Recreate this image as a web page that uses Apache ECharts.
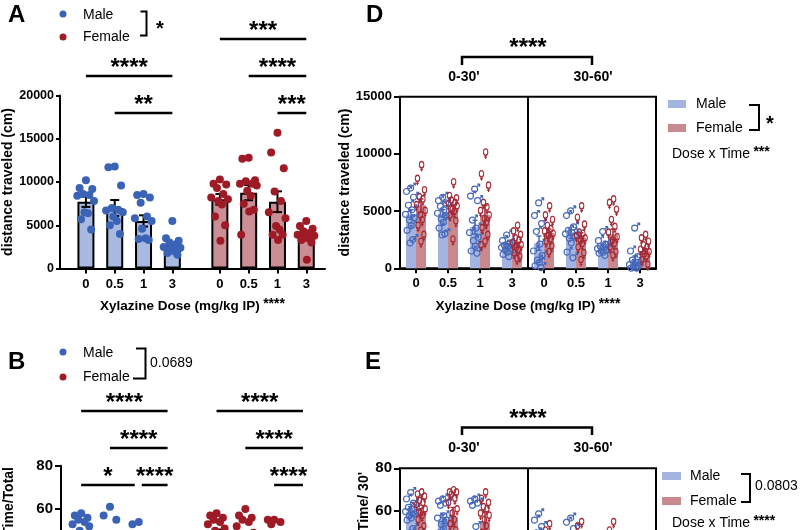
<!DOCTYPE html>
<html><head><meta charset="utf-8">
<script src="https://cdn.jsdelivr.net/npm/echarts@6/dist/echarts.min.js"></script>
<style>html,body{margin:0;padding:0;background:#fff}#c{width:800px;height:530px}</style>
</head><body><div id="c"></div>
<script>
// ---------------- DATA ----------------
const doseLabels = ['0', '0.5', '1', '3'];
const timeLabels = ["0-30'", "30-60'"];

// Panel A: distance traveled (cm), individual animals per dose
const aMaleDots = [
  [10200, 9300, 9200, 8600, 8500, 8400, 7800, 6500, 6400, 5700, 4500],
  [11800, 11700, 9600, 7000, 6800, 6700, 6500, 6000, 5500, 5000, 4000],
  [8600, 8500, 8200, 7600, 6000, 5800, 5500, 4600, 3500, 3400, 3300],
  [5500, 3500, 3200, 3000, 2800, 2500, 2400, 2200, 2000, 1800, 1600]
];
const aFemaleDots = [
  [10300, 9800, 9700, 9300, 8600, 8200, 8000, 7800, 7400, 6000, 5000, 3200],
  [12800, 12700, 10200, 10100, 9800, 9800, 9600, 9000, 8400, 7500, 6800, 6600, 3900],
  [15700, 13400, 11600, 8900, 7800, 6500, 5800, 4900, 4500, 3900, 3900, 3300],
  [5500, 4900, 4600, 4300, 4100, 3900, 3800, 3700, 3500, 3300, 3000, 1000]
];
const aMaleMean = [7720, 7000, 5500, 2700];
const aMaleSem = [600, 920, 650, 350];
const aFemaleMean = [8000, 8770, 7720, 3640];
const aFemaleSem = [620, 880, 1200, 370];

// Panel B: Time/Total
const bMaleDots = [
  [58, 57, 56, 55, 54, 53, 52, 50, 48, 46, 44],
  [61, 57, 55, 46, 43, 40, 38, 36, 34, 30, 28],
  [54, 53, 45, 40, 36, 33, 30, 28, 25, 22, 20],
  [30, 25, 20, 18, 15, 12, 10, 8, 6, 5, 3]
];
const bFemaleDots = [
  [58, 57, 56, 55, 54, 53, 51, 50, 48, 46, 44, 40],
  [60, 57, 56, 55, 54, 52, 49, 46, 44, 42, 40, 35, 30],
  [55, 55, 54, 53, 48, 44, 40, 36, 32, 28, 25, 20],
  [30, 25, 22, 20, 18, 15, 12, 10, 8, 6, 5, 3]
];
const bMaleMean = [48, 40, 35, 14];
const bMaleSem = [1.3, 3, 3, 2.5];
const bFemaleMean = [49, 45, 40, 15];
const bFemaleSem = [1.5, 2.5, 3, 2.5];

// Panel D: distance traveled (cm) per 30-min bin
const dMaleDots030 = [
  [7100, 6800, 6300, 5600, 5200, 4800, 4500, 4300, 3800, 3400, 2600, 2300],
  [6300, 6000, 5800, 5500, 5200, 4900, 4700, 4400, 4100, 3600, 3100, 3000],
  [7000, 6400, 6000, 4300, 3600, 3200, 2800, 2500, 2000, 1600, 1400],
  [3000, 2500, 2300, 2100, 2000, 1900, 1800, 1700, 1500, 1300, 1100]
];
const dFemaleDots030 = [
  [8900, 7700, 6700, 6100, 5900, 5400, 4900, 4500, 4100, 3600, 2800, 2200],
  [7400, 6200, 6000, 5800, 5600, 5500, 5300, 5000, 4800, 4500, 4000, 2400],
  [10000, 8100, 7100, 5600, 5200, 4900, 4500, 4200, 3800, 3400, 2800, 2200, 1900],
  [3600, 3100, 2800, 2500, 2300, 2100, 1900, 1700, 1500, 1200, 900, 700]
];
const dMaleDots3060 = [
  [5800, 4700, 4000, 3300, 2200, 1600, 1200, 800, 600, 300, 150],
  [5100, 4700, 3700, 3400, 3200, 3100, 2900, 2700, 2300, 1500, 1000],
  [3300, 2500, 2200, 2000, 1900, 1800, 1700, 1600, 1500, 1400, 1200],
  [3600, 1600, 1100, 800, 600, 400, 300, 200, 150, 100, 100]
];
const dFemaleDots3060 = [
  [5300, 4500, 4100, 3600, 3300, 3100, 2900, 2700, 2400, 2200, 1800, 1300],
  [5300, 4300, 3700, 3000, 2900, 2700, 2500, 2300, 2000, 1700, 1200, 600],
  [5900, 5600, 5000, 4100, 3500, 3000, 2600, 2300, 2000, 1700, 1300, 1000],
  [2800, 2500, 2200, 1900, 1700, 1500, 1300, 1100, 900, 600, 200]
];
const dMaleMean = [4700, 4800, 3600, 1950, 2200, 3000, 1900, 750];
const dMaleSem = [420, 330, 600, 180, 620, 380, 190, 320];
const dFemaleMean = [5500, 5150, 4650, 2030, 3100, 2700, 2970, 1500];
const dFemaleSem = [560, 380, 850, 230, 330, 400, 460, 240];

// Panel E: Time / 30'
const eMaleDots030 = [
  [69, 66, 64, 62, 61, 60, 59, 58, 57, 56, 52, 50],
  [66, 65, 64, 63, 58, 57, 56, 54, 52, 50, 46, 42],
  [66, 65, 64, 63, 53, 45, 42, 38, 35, 30, 28],
  [42, 38, 35, 30, 28, 25, 22, 20, 18, 15, 12]
];
const eFemaleDots030 = [
  [68, 67, 66, 64, 63, 62, 60, 58, 57, 55, 52, 50],
  [69, 68, 68, 67, 65, 63, 60, 58, 55, 53, 50, 45, 40],
  [68, 65, 63, 61, 60, 58, 57, 55, 52, 49, 45, 40],
  [44, 40, 36, 32, 30, 28, 25, 22, 20, 18, 15, 12]
];
const eMaleDots3060 = [
  [59, 56, 53, 50, 45, 40, 35, 30, 25, 20, 15],
  [57, 55, 52, 48, 45, 42, 40, 37, 33, 28, 25],
  [48, 45, 42, 40, 38, 35, 32, 30, 28, 25, 20],
  [45, 30, 25, 20, 18, 15, 12, 10, 8, 6, 5]
];
const eFemaleDots3060 = [
  [53, 50, 47, 45, 43, 40, 38, 35, 32, 30, 27, 24],
  [54, 52, 48, 46, 44, 42, 40, 38, 35, 32, 30, 25],
  [54, 50, 48, 45, 43, 40, 38, 35, 32, 30, 27, 24],
  [40, 36, 33, 30, 28, 25, 22, 20, 18, 15, 12]
];
const eMaleMean = [59.5, 56, 47, 24, 37, 42, 35, 18];
const eMaleSem = [1.3, 2.2, 3.5, 2.5, 4, 3, 2.5, 3.5];
const eFemaleMean = [59.5, 57, 55, 27, 37, 40, 38, 25];
const eFemaleSem = [1.5, 4.5, 4.5, 2.8, 2.5, 2.4, 2.6, 2.5];

// Significance annotations (comparison between dose groups)
const sigA = [
  {from: 4, to: 7, text: '***', row: 0},
  {from: 0, to: 3, text: '****', row: 1},
  {from: 5, to: 7, text: '****', row: 1},
  {from: 1, to: 3, text: '**', row: 2},
  {from: 6, to: 7, text: '***', row: 2}
];
const sigB = [
  {from: 0, to: 3, text: '****', row: 0},
  {from: 4, to: 7, text: '****', row: 0},
  {from: 1, to: 3, text: '****', row: 1},
  {from: 5, to: 7, text: '****', row: 1},
  {from: 0, to: 2, text: '*', row: 2, trimR: 4},
  {from: 2, to: 3, text: '****', row: 2, trimL: 3},
  {from: 6, to: 7, text: '****', row: 2}
];

// ---------------- LAYOUT / STYLE ----------------
const FONT = '"Liberation Sans", Arial, Helvetica, sans-serif';
const C = {
  maleDot: '#3b63b5', femaleDot: '#9e1b26',
  maleBarA: '#a8b9e2', femaleBarA: '#cb8e94',
  maleBarD: '#a3b4e0', femaleBarD: '#c88a8f',
  maleSym: '#4769bb', femaleSym: '#a52a35'
};
const POS_A = [0.9, 1.9, 2.9, 3.9, 5.55, 6.55, 7.55, 8.55];
const POS_B = [0.7, 1.7, 2.7, 3.7, 5.4, 6.4, 7.4, 8.4];
const POS_D = [0, 1, 2, 3, 4, 5, 6, 7];
const BAR_OFF = 0.156;
const JIT = [0, -0.22, 0.22, -0.1, 0.12, -0.3, 0.28, -0.05, 0.07, -0.17, 0.18, 0.02, -0.26];
const JIT_D = [0.02, -0.11, 0.11, -0.05, 0.06, -0.14, 0.13, -0.02, 0.04, -0.09, 0.09, 0, -0.12];
const ROWS_A = [39, 76, 113];
const ROWS_B = [411, 448, 485];
const MALE_SYM = 'path://M2,12A6,6 0 1,1 14,12A6,6 0 1,1 2,12Z M12.2,7.8L18,2 M13,2L18,2L18,7';
const FEMALE_SYM = 'path://M4,7A6,6 0 1,1 16,7A6,6 0 1,1 4,7Z M10,13L10,20 M6.5,16.5L13.5,16.5';

function dots(groups, pos, jit, scale, off) {
  const out = [];
  groups.forEach((g, i) => g.forEach((v, j) => out.push([pos[i] + (off || 0) + jit[j % jit.length] * scale, v])));
  return out;
}
function errData(mean, sem, pos, off) {
  return mean.map((m, i) => [pos[i] + (off || 0), m - sem[i], m + sem[i]]);
}
function errRenderer(cap, color, lw) {
  return function (params, api) {
    const x = api.value(0);
    const lo = api.coord([x, api.value(1)]);
    const hi = api.coord([x, api.value(2)]);
    const st = {stroke: color, lineWidth: lw};
    return {type: 'group', children: [
      {type: 'line', shape: {x1: hi[0], y1: hi[1], x2: lo[0], y2: lo[1]}, style: st},
      {type: 'line', shape: {x1: hi[0] - cap / 2, y1: hi[1], x2: hi[0] + cap / 2, y2: hi[1]}, style: st},
      {type: 'line', shape: {x1: lo[0] - cap / 2, y1: lo[1], x2: lo[0] + cap / 2, y2: lo[1]}, style: st}
    ]};
  };
}
function labelAt(pos, v) {
  const i = pos.findIndex(p => Math.abs(p - v) < 1e-6);
  return i < 0 ? '' : doseLabels[i % 4];
}
const axisLine = {show: true, onZero: false, lineStyle: {color: '#000', width: 2}};
function tick(len) { return {show: true, length: len, lineStyle: {color: '#000', width: 2}}; }
function lab(size, margin) { return {color: '#000', fontWeight: 'bold', fontSize: size, fontFamily: FONT, margin: margin, formatter: v => String(v)}; }
const xName = '{t|Xylazine Dose (mg/kg IP)} {s|****}';
const xNameStyle = {rich: {
  t: {fontSize: 13.5, fontWeight: 'bold', fontFamily: FONT, color: '#000'},
  s: {fontSize: 14, fontWeight: 'bold', fontFamily: FONT, color: '#000', padding: [0, 0, 4, 0]}
}};
const dividerLine = {silent: true, symbol: 'none', label: {show: false},
  lineStyle: {color: '#000', width: 2, type: 'solid'}, data: [{xAxis: 3.5}]};
const hiddenX = {type: 'value', min: -0.5, max: 7.5, show: false,
  axisLine: {show: false, onZero: false}, axisTick: {show: false}, axisLabel: {show: false}, splitLine: {show: false}};

const chart = echarts.init(document.getElementById('c'));

const option = {
  animation: false,
  backgroundColor: '#fff',
  grid: [
    {left: 60, top: 95.5, width: 265, height: 173, outerBoundsMode: 'none', containLabel: false},
    {left: 400, top: 96.7, width: 256, height: 171.6, show: true, borderColor: '#000', borderWidth: 2, outerBoundsMode: 'none', containLabel: false},
    {left: 61, top: 465.7, width: 265, height: 173.2, outerBoundsMode: 'none', containLabel: false},
    {left: 400, top: 468.3, width: 256, height: 169.6, show: true, borderColor: '#000', borderWidth: 2, outerBoundsMode: 'none', containLabel: false}
  ],
  xAxis: [
    {gridIndex: 0, type: 'value', min: 0, max: 9.2, axisLine: axisLine,
     axisTick: Object.assign(tick(5), {customValues: POS_A}),
     axisLabel: Object.assign(lab(13, 9), {customValues: POS_A, formatter: v => labelAt(POS_A, v)}),
     splitLine: {show: false}, name: xName, nameLocation: 'middle', nameGap: 29, nameTextStyle: xNameStyle},
    {gridIndex: 1, type: 'category', data: doseLabels.concat(doseLabels), axisLine: axisLine,
     axisTick: Object.assign(tick(5), {alignWithLabel: true}), axisLabel: lab(13, 9),
     splitLine: {show: false},
     name: xName, nameLocation: 'middle', nameGap: 29, nameTextStyle: xNameStyle},
    Object.assign({gridIndex: 1}, hiddenX),
    {gridIndex: 2, type: 'value', min: 0, max: 9.2, axisLine: axisLine,
     axisTick: Object.assign(tick(5), {customValues: POS_B}),
     axisLabel: Object.assign(lab(13, 9), {customValues: POS_B, formatter: v => labelAt(POS_B, v)}),
     splitLine: {show: false}},
    {gridIndex: 3, type: 'category', data: doseLabels.concat(doseLabels), axisLine: axisLine,
     axisTick: Object.assign(tick(5), {alignWithLabel: true}), axisLabel: lab(13, 9),
     splitLine: {show: false}},
    Object.assign({gridIndex: 3}, hiddenX)
  ],
  yAxis: [
    {gridIndex: 0, type: 'value', min: 0, max: 20000, interval: 5000, axisLine: axisLine, axisTick: tick(4),
     axisLabel: lab(12.5, 6), splitLine: {show: false},
     name: 'distance traveled (cm)', nameLocation: 'middle', nameGap: 44,
     nameTextStyle: {fontSize: 14, fontWeight: 'bold', fontFamily: FONT, color: '#000'}},
    {gridIndex: 1, type: 'value', min: 0, max: 15000, interval: 5000, axisLine: axisLine, axisTick: tick(6),
     axisLabel: lab(13, 8), splitLine: {show: false},
     name: 'distance traveled (cm)', nameLocation: 'middle', nameGap: 47,
     nameTextStyle: {fontSize: 14, fontWeight: 'bold', fontFamily: FONT, color: '#000'}},
    {gridIndex: 2, type: 'value', min: 0, max: 80, interval: 20, axisLine: axisLine, axisTick: tick(6),
     axisLabel: lab(15, 8), splitLine: {show: false}},
    {gridIndex: 3, type: 'value', min: 0, max: 80, interval: 20, axisLine: axisLine, axisTick: tick(6),
     axisLabel: lab(15, 8), splitLine: {show: false}}
  ],
  series: [
    // ---- Panel A ----
    {name: 'Male', type: 'bar', xAxisIndex: 0, yAxisIndex: 0, barWidth: 17, barGap: '-100%', z: 2,
     itemStyle: {color: C.maleBarA, borderColor: '#000', borderWidth: 2},
     data: aMaleMean.map((m, i) => [POS_A[i], m])},
    {name: 'Female', type: 'bar', xAxisIndex: 0, yAxisIndex: 0, barWidth: 17, barGap: '-100%', z: 2,
     itemStyle: {color: C.femaleBarA, borderColor: '#000', borderWidth: 2},
     data: aFemaleMean.map((m, i) => [POS_A[i + 4], m])},
    {type: 'custom', xAxisIndex: 0, yAxisIndex: 0, z: 3, renderItem: errRenderer(9, '#000', 2),
     encode: {x: 0, y: [1, 2]},
     data: errData(aMaleMean, aMaleSem, POS_A.slice(0, 4)).concat(errData(aFemaleMean, aFemaleSem, POS_A.slice(4)))},
    {name: 'Male', type: 'scatter', xAxisIndex: 0, yAxisIndex: 0, z: 4, symbolSize: 8,
     itemStyle: {color: C.maleDot, opacity: 1}, data: dots(aMaleDots, POS_A.slice(0, 4), JIT, 1)},
    {name: 'Female', type: 'scatter', xAxisIndex: 0, yAxisIndex: 0, z: 4, symbolSize: 8,
     itemStyle: {color: C.femaleDot, opacity: 1}, data: dots(aFemaleDots, POS_A.slice(4), JIT, 1)},
    // ---- Panel B ----
    {name: 'Male', type: 'bar', xAxisIndex: 3, yAxisIndex: 2, barWidth: 17, barGap: '-100%', z: 2,
     itemStyle: {color: C.maleBarA, borderColor: '#000', borderWidth: 2},
     data: bMaleMean.map((m, i) => [POS_B[i], m])},
    {name: 'Female', type: 'bar', xAxisIndex: 3, yAxisIndex: 2, barWidth: 17, barGap: '-100%', z: 2,
     itemStyle: {color: C.femaleBarA, borderColor: '#000', borderWidth: 2},
     data: bFemaleMean.map((m, i) => [POS_B[i + 4], m])},
    {type: 'custom', xAxisIndex: 3, yAxisIndex: 2, z: 3, renderItem: errRenderer(9, '#000', 2),
     encode: {x: 0, y: [1, 2]},
     data: errData(bMaleMean, bMaleSem, POS_B.slice(0, 4)).concat(errData(bFemaleMean, bFemaleSem, POS_B.slice(4)))},
    {name: 'Male', type: 'scatter', xAxisIndex: 3, yAxisIndex: 2, z: 4, symbolSize: 8,
     itemStyle: {color: C.maleDot, opacity: 1}, data: dots(bMaleDots, POS_B.slice(0, 4), JIT, 1)},
    {name: 'Female', type: 'scatter', xAxisIndex: 3, yAxisIndex: 2, z: 4, symbolSize: 8,
     itemStyle: {color: C.femaleDot, opacity: 1}, data: dots(bFemaleDots, POS_B.slice(4), JIT, 1)},
    // ---- Panel D ----
    {name: 'Male', type: 'bar', xAxisIndex: 1, yAxisIndex: 1, barWidth: 10, barGap: '0%', z: 2,
     itemStyle: {color: C.maleBarD}, data: dMaleMean},
    {name: 'Female', type: 'bar', xAxisIndex: 1, yAxisIndex: 1, barWidth: 10, barGap: '0%', z: 2,
     itemStyle: {color: C.femaleBarD}, data: dFemaleMean},
    {name: 'Male', type: 'scatter', xAxisIndex: 2, yAxisIndex: 1, z: 3, symbol: MALE_SYM, symbolSize: 8, symbolKeepAspect: true,
     itemStyle: {color: 'rgba(0,0,0,0)', borderColor: C.maleSym, borderWidth: 1.2, opacity: 1},
     data: dots(dMaleDots030.concat(dMaleDots3060), POS_D, JIT_D, 1, -BAR_OFF),
     markLine: dividerLine},
    {name: 'Female', type: 'scatter', xAxisIndex: 2, yAxisIndex: 1, z: 3, symbol: FEMALE_SYM, symbolSize: [7, 10], symbolKeepAspect: true,
     itemStyle: {color: 'rgba(0,0,0,0)', borderColor: C.femaleSym, borderWidth: 1.2, opacity: 1},
     data: dots(dFemaleDots030.concat(dFemaleDots3060), POS_D, JIT_D, 1, BAR_OFF)},
    {type: 'custom', xAxisIndex: 2, yAxisIndex: 1, z: 4, renderItem: errRenderer(5, C.maleSym, 1.5),
     encode: {x: 0, y: [1, 2]}, data: errData(dMaleMean, dMaleSem, POS_D, -BAR_OFF)},
    {type: 'custom', xAxisIndex: 2, yAxisIndex: 1, z: 4, renderItem: errRenderer(5, C.femaleSym, 1.5),
     encode: {x: 0, y: [1, 2]}, data: errData(dFemaleMean, dFemaleSem, POS_D, BAR_OFF)},
    // ---- Panel E ----
    {name: 'Male', type: 'bar', xAxisIndex: 4, yAxisIndex: 3, barWidth: 10, barGap: '0%', z: 2,
     itemStyle: {color: C.maleBarD}, data: eMaleMean},
    {name: 'Female', type: 'bar', xAxisIndex: 4, yAxisIndex: 3, barWidth: 10, barGap: '0%', z: 2,
     itemStyle: {color: C.femaleBarD}, data: eFemaleMean},
    {name: 'Male', type: 'scatter', xAxisIndex: 5, yAxisIndex: 3, z: 3, symbol: MALE_SYM, symbolSize: 8, symbolKeepAspect: true,
     itemStyle: {color: 'rgba(0,0,0,0)', borderColor: C.maleSym, borderWidth: 1.2, opacity: 1},
     data: dots(eMaleDots030.concat(eMaleDots3060), POS_D, JIT_D, 1, -BAR_OFF),
     markLine: dividerLine},
    {name: 'Female', type: 'scatter', xAxisIndex: 5, yAxisIndex: 3, z: 3, symbol: FEMALE_SYM, symbolSize: [7, 10], symbolKeepAspect: true,
     itemStyle: {color: 'rgba(0,0,0,0)', borderColor: C.femaleSym, borderWidth: 1.2, opacity: 1},
     data: dots(eFemaleDots030.concat(eFemaleDots3060), POS_D, JIT_D, 1, BAR_OFF)},
    {type: 'custom', xAxisIndex: 5, yAxisIndex: 3, z: 4, renderItem: errRenderer(5, C.maleSym, 1.5),
     encode: {x: 0, y: [1, 2]}, data: errData(eMaleMean, eMaleSem, POS_D, -BAR_OFF)},
    {type: 'custom', xAxisIndex: 5, yAxisIndex: 3, z: 4, renderItem: errRenderer(5, C.femaleSym, 1.5),
     encode: {x: 0, y: [1, 2]}, data: errData(eFemaleMean, eFemaleSem, POS_D, BAR_OFF)}
  ]
};
chart.setOption(option);

// ---------------- ANNOTATIONS ----------------
const G = [];
function txt(x, y, text, font, align, vAlign, extra) {
  G.push(Object.assign({type: 'text', x: x, y: y, z: 10,
    style: {text: text, font: font, fill: '#000', align: align || 'left', verticalAlign: vAlign || 'middle'}}, extra || {}));
}
function poly(points, w) {
  G.push({type: 'polyline', z: 10, shape: {points: points}, style: {stroke: '#000', lineWidth: w || 2, fill: null}});
}
const STAR = 'bold 24px ' + FONT;
function addSig(list, xAxisIndex, pos, rows) {
  list.forEach(s => {
    const x1 = chart.convertToPixel({xAxisIndex: xAxisIndex}, pos[s.from]) + (s.trimL || 0);
    const x2 = chart.convertToPixel({xAxisIndex: xAxisIndex}, pos[s.to]) - (s.trimR || 0);
    const y = rows[s.row];
    poly([[x1, y], [x2, y]], 2.5);
    txt((x1 + x2) / 2, y - 7.5, s.text, STAR, 'center', 'middle');
  });
}
addSig(sigA, 0, POS_A, ROWS_A);
addSig(sigB, 3, POS_B, ROWS_B);

// panel letters
const LET = 'bold 24px ' + FONT;
txt(8, 15, 'A', LET); txt(366, 15, 'D', LET); txt(8, 362, 'B', LET); txt(365, 362, 'E', LET);

// legends A and B (dots)
const LEG = '14px ' + FONT;
[[14, 37], [352, 377]].forEach(([y1, y2]) => {
  G.push({type: 'circle', z: 10, shape: {cx: 63, cy: y1, r: 3.5}, style: {fill: C.maleDot}});
  G.push({type: 'circle', z: 10, shape: {cx: 63, cy: y2, r: 3.5}, style: {fill: C.femaleDot}});
  txt(83, y1 + 1, 'Male', LEG); txt(83, y2, 'Female', LEG);
});
poly([[140.5, 11.5], [146.5, 11.5], [146.5, 35.5], [140, 35.5]], 2);
txt(160, 29, '*', 'bold 20px ' + FONT, 'center');
poly([[136, 348.5], [145.5, 348.5], [145.5, 378.5], [133, 378.5]], 2);
txt(150, 363, '0.0689', LEG);

// legends D and E (swatches)
G.push({type: 'rect', z: 10, shape: {x: 668, y: 100, width: 18, height: 8}, style: {fill: C.maleBarD}});
G.push({type: 'rect', z: 10, shape: {x: 668, y: 124, width: 18, height: 8}, style: {fill: C.femaleBarD}});
txt(696, 104, 'Male', LEG); txt(696, 128.5, 'Female', LEG);
poly([[749, 105], [759, 105], [759, 130], [749, 130]], 2);
txt(770, 124, '*', 'bold 20px ' + FONT, 'center');
G.push({type: 'text', x: 672, y: 154, z: 10, style: {text: '{a|Dose x Time} {b|***}', verticalAlign: 'middle',
  rich: {a: {font: LEG, fill: '#000'}, b: {font: 'bold 14px ' + FONT, fill: '#000', padding: [0, 0, 3, 0]}}}});

G.push({type: 'rect', z: 10, shape: {x: 662, y: 472, width: 19, height: 8}, style: {fill: C.maleBarD}});
G.push({type: 'rect', z: 10, shape: {x: 662, y: 497, width: 19, height: 8}, style: {fill: C.femaleBarD}});
txt(690, 476, 'Male', LEG); txt(690, 501, 'Female', LEG);
poly([[741, 474], [750, 474], [750, 502], [741, 502]], 2);
txt(755, 486, '0.0803', LEG);
G.push({type: 'text', x: 672, y: 523, z: 10, style: {text: '{a|Dose x Time} {b|****}', verticalAlign: 'middle',
  rich: {a: {font: LEG, fill: '#000'}, b: {font: 'bold 14px ' + FONT, fill: '#000', padding: [0, 0, 3, 0]}}}});

// time-bin headers with bracket
function header(xAxisIndex, yLine, yTick, yStar, yLab) {
  const l = chart.convertToPixel({xAxisIndex: xAxisIndex}, 1.5);
  const r = chart.convertToPixel({xAxisIndex: xAxisIndex}, 5.5);
  poly([[l - 2, yTick], [l - 2, yLine], [r, yLine], [r, yTick]], 2.5);
  txt((l + r) / 2, yStar, '****', STAR, 'center');
  txt(l, yLab, timeLabels[0], 'bold 14px ' + FONT, 'center');
  txt(r + 1, yLab, timeLabels[1], 'bold 14px ' + FONT, 'center');
}
header(2, 57, 65, 48.5, 77.5);
header(5, 427.5, 435, 419, 448);

// partially visible y-axis titles of B and E
txt(9, 467, 'Time/Total', 'bold 14px ' + FONT, 'right', 'middle', {rotation: Math.PI / 2});
txt(364, 472, "Time/ 30'", 'bold 14px ' + FONT, 'right', 'middle', {rotation: Math.PI / 2});

chart.setOption({graphic: G});
</script>
</body></html>
